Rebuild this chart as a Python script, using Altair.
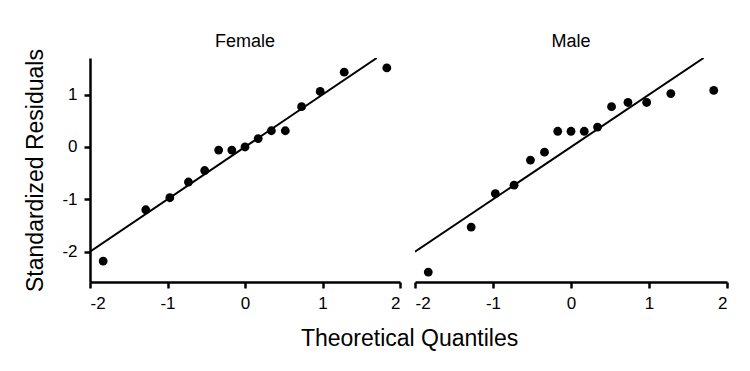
import altair as alt
import pandas as pd

# Theoretical normal quantiles (shared by both panels)
quantiles = [-1.83, -1.28, -0.97, -0.73, -0.52, -0.34, -0.17, 0.0,
             0.17, 0.34, 0.52, 0.73, 0.97, 1.28, 1.83]
# Sorted standardized residuals
female_resid = [-2.18, -1.20, -0.97, -0.67, -0.45, -0.06, -0.06, 0.0,
                0.16, 0.31, 0.31, 0.77, 1.06, 1.43, 1.51]
male_resid = [-2.39, -1.53, -0.89, -0.73, -0.25, -0.10, 0.30, 0.30,
              0.30, 0.38, 0.77, 0.85, 0.85, 1.02, 1.08]
# Reference line y = x
line_x = [-2.0, 1.7]
line_y = [-2.0, 1.7]
panel_names = ["Female", "Male"]

FONT = "Liberation Sans"
Y_DOMAIN = [-2.58, 1.7]


def panel(resid, title, show_y, width):
    pts = pd.DataFrame({"q": quantiles, "r": resid})
    ln = pd.DataFrame({"q": line_x, "r": line_y})
    x = alt.X(
        "q:Q",
        scale=alt.Scale(domain=[-2, 2], nice=False, zero=False),
        axis=alt.Axis(values=[-2, -1, 0, 1, 2], title=None,
                      labelExpr="'' + datum.value"),
    )
    if show_y:
        yaxis = alt.Axis(values=[-2, -1, 0, 1], title="Standardized Residuals",
                         labelExpr="'' + datum.value", titleFontSize=23,
                         titleFont=FONT, titleFontWeight="normal",
                         titleColor="black", titlePadding=14)
    else:
        yaxis = None
    y = alt.Y("r:Q", scale=alt.Scale(domain=Y_DOMAIN, nice=False, zero=False),
              axis=yaxis)
    line = alt.Chart(ln).mark_line(color="black", strokeWidth=2, clip=True).encode(x=x, y=y)
    dots = alt.Chart(pts).mark_circle(size=78, color="black", opacity=1).encode(x=x, y=y)
    label = alt.Chart(pd.DataFrame({"t": [title]})).mark_text(
        font=FONT, fontSize=18, color="black", baseline="alphabetic", align="center"
    ).encode(text="t:N", x=alt.value(width / 2), y=alt.value(-11))
    return alt.layer(line, dots, label).properties(width=width, height=224)


chart = alt.hconcat(
    panel(female_resid, panel_names[0], True, 310),
    panel(male_resid, panel_names[1], False, 312),
    spacing=15,
    bounds="flush",
).properties(
    title=alt.TitleParams("Theoretical Quantiles", orient="bottom", anchor="middle",
                          fontSize=23, font=FONT, fontWeight="normal",
                          color="black", offset=17, dx=33),
    padding={"left": 24, "top": 33, "right": 5, "bottom": 5},
    background="white",
).configure_view(
    stroke=None
).configure_axis(
    grid=False,
    domainColor="black", domainWidth=2.5,
    tickColor="black", tickWidth=2.5, tickSize=6,
    labelFont=FONT, labelFontSize=17, labelColor="black", labelPadding=7,
)

chart.save("out.html", embed_options={"renderer": "svg", "actions": False})
